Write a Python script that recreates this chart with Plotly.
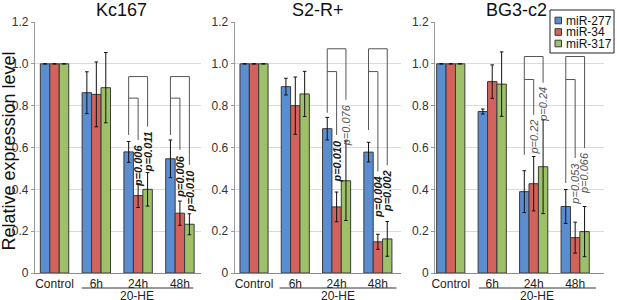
import plotly.graph_objects as go

# ---------------- data ----------------
categories = ["Control", "6h", "24h", "48h"]
series_names = ["miR-277", "miR-34", "miR-317"]
panel_titles = ["Kc167", "S2-R+", "BG3-c2"]

kc167_mir277 = [1.0, 0.862, 0.579, 0.546]
kc167_mir277_err = [0.0, 0.100, 0.050, 0.090]
kc167_mir34 = [1.0, 0.854, 0.370, 0.286]
kc167_mir34_err = [0.0, 0.155, 0.057, 0.058]
kc167_mir317 = [1.0, 0.886, 0.400, 0.233]
kc167_mir317_err = [0.0, 0.168, 0.080, 0.050]

s2_mir277 = [1.0, 0.891, 0.690, 0.578]
s2_mir277_err = [0.0, 0.040, 0.054, 0.047]
s2_mir34 = [1.0, 0.800, 0.316, 0.149]
s2_mir34_err = [0.0, 0.137, 0.071, 0.036]
s2_mir317 = [1.0, 0.856, 0.441, 0.163]
s2_mir317_err = [0.0, 0.108, 0.190, 0.083]

bg3_mir277 = [1.0, 0.772, 0.389, 0.318]
bg3_mir277_err = [0.0, 0.012, 0.100, 0.081]
bg3_mir34 = [1.0, 0.915, 0.427, 0.169]
bg3_mir34_err = [0.0, 0.080, 0.130, 0.074]
bg3_mir317 = [1.0, 0.903, 0.508, 0.198]
bg3_mir317_err = [0.0, 0.154, 0.224, 0.120]

# p-values (24h, 48h) : miR-277 vs miR-34, miR-277 vs miR-317
kc167_p_mir34 = ["0.006", "0.006"]
kc167_p_mir317 = ["0.011", "0.010"]
s2_p_mir34 = ["0.010", "0.004"]
s2_p_mir317 = ["0.076", "0.002"]
bg3_p_mir34 = ["0.22", "0.053"]
bg3_p_mir317 = ["0.24", "0.066"]

y_tick_values = [0, 0.2, 0.4, 0.6, 0.8, 1.0, 1.2]
y_tick_labels = ["0", "0.2", "0.4", "0.6", "0.8", "1.0", "1.2"]

# ---------------- styling / layout ----------------
W, H = 617, 300
colors = ["#5B8ED0", "#D2625B", "#9DC068"]
FONT = "Liberation Sans, Arial, sans-serif"

def px_x(p):
    return p / W

def px_y(p):
    return 1 - p / H

panel_values = [
    ([kc167_mir277, kc167_mir34, kc167_mir317],
     [kc167_mir277_err, kc167_mir34_err, kc167_mir317_err],
     kc167_p_mir34, kc167_p_mir317),
    ([s2_mir277, s2_mir34, s2_mir317],
     [s2_mir277_err, s2_mir34_err, s2_mir317_err],
     s2_p_mir34, s2_p_mir317),
    ([bg3_mir277, bg3_mir34, bg3_mir317],
     [bg3_mir277_err, bg3_mir34_err, bg3_mir317_err],
     bg3_p_mir34, bg3_p_mir317),
]

# axis geometry (pixels) and ranges
x_domains_px = [(34.9, 200.8), (234.6, 400.6), (435.0, 604.2)]
x_ranges = [[-0.47, 3.5], [-0.47, 3.55], [-0.38, 3.7]]
title_x_px = [121, 317.5, 516]
he_line = [(0.65, 3.32), (0.62, 3.45), (0.68, 3.5)]

# bracket geometry per panel: outer top, inner top, and leg ends for (24h, 48h)
brackets = [
    dict(outer=0.939, inner=0.836, left=[0.66, 0.66], red=[0.636, 0.589], green=[0.70, 0.517]),
    dict(outer=1.072, inner=0.963, left=[0.766, 0.684], red=[0.66, 0.485], green=[0.828, 0.515]),
    dict(outer=1.035, inner=0.925, left=[0.565, 0.43], red=[0.756, 0.55], green=[0.91, 0.598]),
]

bargap = 0.32
bar_w = (1 - bargap) / 3

fig = go.Figure()
shapes = []
annotations = []
x_pos = list(range(len(categories)))

for i, (vals, errs, p34, p317) in enumerate(panel_values):
    sfx = "" if i == 0 else str(i + 1)
    for j in range(3):
        fig.add_trace(go.Bar(
            x=x_pos, y=vals[j], name=series_names[j],
            xaxis="x" + sfx, yaxis="y" + sfx,
            offsetgroup=str(j),
            marker=dict(color=colors[j], line=dict(color="#3a3a3a", width=1)),
            error_y=dict(type="data", array=errs[j], color="#111111",
                         thickness=1, width=1.8),
            showlegend=False, hoverinfo="skip",
        ))
    d0, d1 = x_domains_px[i]
    fig.update_layout(**{
        "xaxis" + sfx: dict(
            domain=[px_x(d0), px_x(d1)], range=x_ranges[i],
            tickvals=x_pos, ticktext=categories, anchor="y" + sfx,
            showline=True, linecolor="#8a8a8a", linewidth=1,
            showgrid=False, zeroline=False, ticks="",
            tickfont=dict(family=FONT, size=12, color="#222222"),
            fixedrange=True,
        ),
        "yaxis" + sfx: dict(
            domain=[px_y(273), px_y(22)], range=[0, 1.2],
            tickvals=y_tick_values, ticktext=y_tick_labels, anchor="x" + sfx,
            showline=True, linecolor="#9a9a9a", linewidth=1,
            showgrid=True, gridcolor="#dadada", gridwidth=1,
            zeroline=False, ticks="outside", ticklen=3, tickcolor="#9a9a9a",
            tickfont=dict(family=FONT, size=12, color="#333333"),
            fixedrange=True,
        ),
    })
    xr = "x" + sfx
    yr = "y" + sfx
    # panel title
    annotations.append(dict(
        x=px_x(title_x_px[i]), y=px_y(10), xref="paper", yref="paper",
        text=panel_titles[i], showarrow=False, xanchor="center", yanchor="middle",
        font=dict(family=FONT, size=18, color="#111111"),
    ))
    # 20-HE line and label
    shapes.append(dict(type="line", xref=xr, yref="paper",
                       x0=he_line[i][0], x1=he_line[i][1],
                       y0=px_y(288), y1=px_y(288),
                       line=dict(color="#333333", width=1)))
    annotations.append(dict(
        x=(he_line[i][0] + he_line[i][1]) / 2, y=px_y(295.5), xref=xr, yref="paper",
        text="20-HE", showarrow=False, xanchor="center", yanchor="middle",
        font=dict(family=FONT, size=12, color="#222222"),
    ))
    # brackets and p-values
    b = brackets[i]
    for k, cat in enumerate([2, 3]):
        xb = cat - bar_w
        xrd = cat
        xg = cat + bar_w
        line_style = dict(color="#555555", width=1)
        shapes.append(dict(type="path", xref=xr, yref=yr,
                           path=f"M {xb},{b['left'][k]} L {xb},{b['outer']} L {xg},{b['outer']} L {xg},{b['green'][k]}",
                           line=line_style))
        shapes.append(dict(type="path", xref=xr, yref=yr,
                           path=f"M {xb},{b['inner']} L {xrd},{b['inner']} L {xrd},{b['red'][k]}",
                           line=line_style))
        for xx, ptxt, yend in [(xrd, p34[k], b["red"][k]), (xg, p317[k], b["green"][k])]:
            sig = float(ptxt) < 0.05
            txt = f"<i>p={ptxt}</i>"
            if sig:
                txt = f"<b>{txt}</b>"
            annotations.append(dict(
                x=xx, y=yend - 0.012, xref=xr, yref=yr, text=txt,
                showarrow=False, textangle=-90, xanchor="center", yanchor="top",
                font=dict(family=FONT, size=11, color="#1a1a1a" if sig else "#555555"),
            ))

# y axis title
annotations.append(dict(
    x=px_x(8.5), y=px_y(151), xref="paper", yref="paper",
    text="Relative expression level", showarrow=False, textangle=-90,
    xanchor="center", yanchor="middle",
    font=dict(family=FONT, size=18, color="#111111"),
))

# legend (drawn manually)
shapes.append(dict(type="rect", xref="paper", yref="paper",
                   x0=px_x(550), x1=px_x(614), y0=px_y(53), y1=px_y(10),
                   line=dict(color="#222222", width=1), fillcolor="white"))
legend_rows = [20.5, 32, 43.5]
for j in range(3):
    yc = legend_rows[j]
    shapes.append(dict(type="rect", xref="paper", yref="paper",
                       x0=px_x(555), x1=px_x(561.5), y0=px_y(yc + 3.3), y1=px_y(yc - 3.3),
                       line=dict(color="#3a3a3a", width=1), fillcolor=colors[j]))
    annotations.append(dict(
        x=px_x(563.5), y=px_y(yc), xref="paper", yref="paper",
        text=series_names[j], showarrow=False, xanchor="left", yanchor="middle",
        font=dict(family=FONT, size=12, color="#111111"),
    ))

fig.update_layout(
    width=W, height=H,
    margin=dict(l=0, r=0, t=0, b=0, pad=0, autoexpand=False),
    paper_bgcolor="white", plot_bgcolor="white",
    barmode="group", bargap=bargap, bargroupgap=0,
    shapes=shapes, annotations=annotations,
    showlegend=False,
    font=dict(family=FONT),
)

fig.write_html(
    "out.html",
    config={"displayModeBar": False},
    post_script="document.body.style.margin='0';document.body.style.overflow='hidden';",
)
